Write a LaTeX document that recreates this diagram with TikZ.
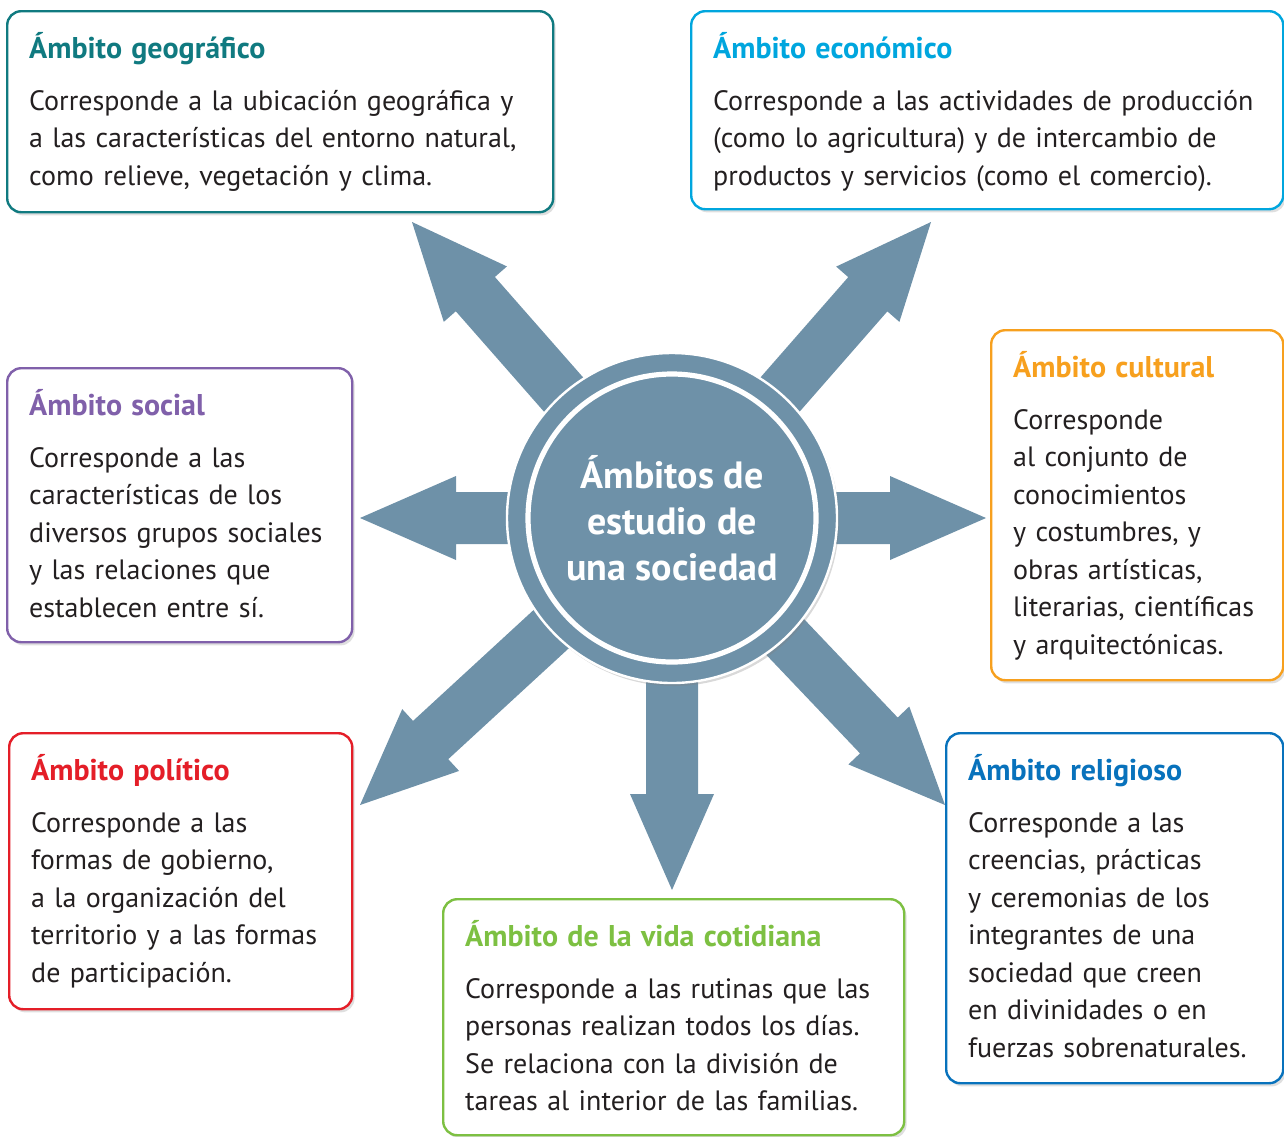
\documentclass[tikz,border=0pt]{standalone}
\usepackage{fontspec}
\setmainfont{PT Sans}
\usetikzlibrary{positioning,calc,shadows}
\definecolor{geocol}{RGB}{16,122,128}
\definecolor{ecocol}{RGB}{0,166,222}
\definecolor{soccol}{RGB}{128,96,170}
\definecolor{culcol}{RGB}{247,160,30}
\definecolor{polcol}{RGB}{228,30,40}
\definecolor{vidcol}{RGB}{125,192,66}
\definecolor{relcol}{RGB}{8,114,188}
\definecolor{arwcol}{RGB}{110,145,168}
\definecolor{txtcol}{RGB}{35,31,32}
\tikzset{
  ambox/.style={draw=#1, line width=1.2pt, rounded corners=7pt, fill=white, anchor=north west,
    inner xsep=11pt, inner ysep=0pt, align=left, text=txtcol, text height=23.5pt,
    font=\fontsize{14}{18.75}\selectfont,
    drop shadow={shadow xshift=1.2pt, shadow yshift=-1.6pt, opacity=.25}},
  arw/.style={fill=arwcol},
  hub/.style={circle, fill=arwcol, draw=white, line width=1.2pt, minimum size=165pt, inner sep=0pt,
    text=white, align=center, font=\bfseries\fontsize{19}{23}\selectfont,
    drop shadow={shadow xshift=1pt, shadow yshift=-1.5pt, opacity=.3}},
  ring/.style={draw=white, line width=2.6pt},
}
% block arrow from #1 to the tip #2
\newcommand{\fatarrow}[2]{%
  \path ($(#2)!48pt!(#1)$) coordinate (hb);
  \fill[arw] ($(#1)!13pt!90:(#2)$) -- ($(hb)!13pt!-90:(#1)$) -- ($(hb)!21pt!-90:(#1)$) -- (#2)
    -- ($(hb)!21pt!90:(#1)$) -- ($(hb)!13pt!90:(#1)$) -- ($(#1)!13pt!-90:(#2)$) -- cycle;}
\newcommand{\ttlof}[2]{{\color{#1}\bfseries\fontsize{15}{18.75}\selectfont #2}\\[7.25pt]}

\begin{document}
\begin{tikzpicture}[x=0.5pt, y=-0.5pt]
\useasboundingbox (0,0) rectangle (1284,1136);
\coordinate (ctr) at (672,518);
\coordinate (tgeo) at (412,222);
\coordinate (teco) at (931,222);
\coordinate (tsoc) at (360,518);
\coordinate (tcul) at (986,518);
\coordinate (tpol) at (360,805);
\coordinate (tvid) at (672,890);
\coordinate (trel) at (945,805);
\fatarrow{ctr}{tgeo}
\fatarrow{ctr}{teco}
\fatarrow{ctr}{tsoc}
\fatarrow{ctr}{tcul}
\fatarrow{ctr}{tpol}
\fatarrow{ctr}{tvid}
\fatarrow{ctr}{trel}
\node[hub] (cen) at (ctr) {Ámbitos de\\estudio de\\una sociedad};
\draw[ring] (cen.center) circle[radius=72pt];

\node[ambox=geocol, text width=251pt, text depth=77pt] (geo) at (6,10)
  {\ttlof{geocol}{Ámbito geográfico}Corresponde a la ubicación geográfica y\\a las características del entorno natural,\\como relieve, vegetación y clima.};
\node[ambox=ecocol, text width=274pt, text depth=75.5pt] (eco) at (690,10)
  {\ttlof{ecocol}{Ámbito económico}Corresponde a las actividades de producción\\(como lo agricultura) y de intercambio de\\productos y servicios (como el comercio).};
\node[ambox=soccol, text width=150.5pt, text depth=113.5pt] (soc) at (6,367)
  {\ttlof{soccol}{Ámbito social}Corresponde a las\\características de los\\diversos grupos sociales\\y las relaciones que\\establecen entre sí.};
\node[ambox=culcol, text width=124pt, text depth=151.5pt] (cul) at (990,329)
  {\ttlof{culcol}{Ámbito cultural}Corresponde\\al conjunto de\\conocimientos\\y costumbres, y\\obras artísticas,\\literarias, científicas\\y arquitectónicas.};
\node[ambox=polcol, text width=149.5pt, text depth=114.5pt] (pol) at (8,732)
  {\ttlof{polcol}{Ámbito político}Corresponde a las\\formas de gobierno,\\a la organización del\\territorio y a las formas\\de participación.};
\node[ambox=vidcol, text width=208.5pt, text depth=94.5pt] (vid) at (442,898)
  {\ttlof{vidcol}{Ámbito de la vida cotidiana}Corresponde a las rutinas que las\\personas realizan todos los días.\\Se relaciona con la división de\\tareas al interior de las familias.};
\node[ambox=relcol, text width=146.5pt, text depth=151.5pt] (rel) at (945,732)
  {\ttlof{relcol}{Ámbito religioso}Corresponde a las\\creencias, prácticas\\y ceremonias de los\\integrantes de una\\sociedad que creen\\en divinidades o en\\fuerzas sobrenaturales.};
\end{tikzpicture}
\end{document}
